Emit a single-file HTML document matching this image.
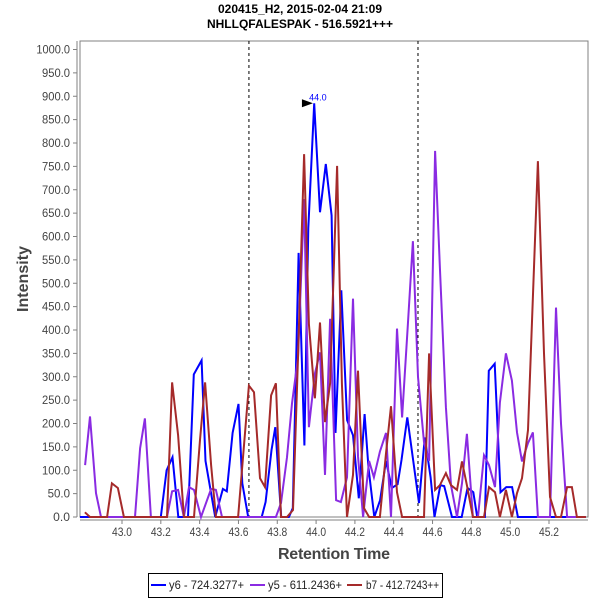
<!DOCTYPE html>
<html><head><meta charset="utf-8"><style>
html,body{margin:0;padding:0;background:#fff;}
svg{display:block;font-family:"Liberation Sans",sans-serif;}
</style></head><body>
<svg id="chart" width="600" height="600" xmlns="http://www.w3.org/2000/svg">
<text x="300" y="13" text-anchor="middle" font-size="12" font-weight="bold" textLength="164">020415_H2, 2015-02-04 21:09</text>
<text x="300" y="28" text-anchor="middle" font-size="12" font-weight="bold" textLength="186">NHLLQFALESPAK - 516.5921+++</text>
<rect x="80" y="41" width="508" height="476" fill="#fff" stroke="#808080" stroke-width="1"/>
<g id="yaxis"></g>
<g id="xaxis"></g>
<g id="marks"></g>
<text x="334" y="559" text-anchor="middle" font-size="16" font-weight="bold" fill="#444" textLength="112">Retention Time</text>
<text transform="translate(28,279) rotate(-90)" text-anchor="middle" font-size="16" font-weight="bold" fill="#444" textLength="66">Intensity</text>
<g>
<rect x="148.5" y="573.5" width="294" height="24" fill="#fff" stroke="#000"/>
<line x1="151" y1="585" x2="166" y2="585" stroke="#0000ff" stroke-width="2"/>
<text x="169" y="589" font-size="12" fill="#222" textLength="75" lengthAdjust="spacingAndGlyphs">y6 - 724.3277+</text>
<line x1="250" y1="585" x2="265" y2="585" stroke="#8a2be2" stroke-width="2"/>
<text x="268" y="589" font-size="12" fill="#222" textLength="74" lengthAdjust="spacingAndGlyphs">y5 - 611.2436+</text>
<line x1="347" y1="585" x2="362" y2="585" stroke="#a52a2a" stroke-width="2"/>
<text x="366" y="589" font-size="12" fill="#222" textLength="73" lengthAdjust="spacingAndGlyphs">b7 - 412.7243++</text>
</g>
</svg>
<script>
const yTicks=[0,50,100,150,200,250,300,350,400,450,500,550,600,650,700,750,800,850,900,950,1000];
const xTicks=[43.0,43.2,43.4,43.6,43.8,44.0,44.2,44.4,44.6,44.8,45.0,45.2];
const markers=[43.654,44.525];
const apexRt=43.994, apexVal=885, apexLabel="44.0";
const y6Rt=[42.78,43.20,43.23,43.26,43.29,43.34,43.37,43.41,43.43,43.48,43.52,43.54,43.57,43.60,43.62,43.65,43.72,43.74,43.77,43.79,43.82,43.86,43.88,43.91,43.94,43.96,43.99,44.02,44.05,44.08,44.10,44.13,44.16,44.19,44.22,44.25,44.27,44.30,44.33,44.36,44.39,44.42,44.44,44.47,44.53,44.56,44.59,44.61,44.64,44.66,44.70,44.75,44.78,44.81,44.83,44.87,44.89,44.92,44.95,44.98,45.01,45.04,45.39];
const y6Val=[0,0,100,128,0,0,305,335,120,0,60,55,180,242,72,0,0,32,143,192,0,0,19,565,153,618,885,652,755,645,180,485,207,175,40,220,105,0,36,120,62,70,122,213,30,170,85,0,68,66,0,0,62,53,0,0,313,328,53,64,64,0,0];
const y5Rt=[42.81,42.835,42.866,42.892,43.067,43.093,43.118,43.149,43.232,43.258,43.289,43.319,43.345,43.371,43.407,43.459,43.484,43.515,43.793,43.819,43.850,43.876,43.907,43.938,43.963,43.994,44.020,44.046,44.072,44.103,44.128,44.159,44.190,44.216,44.242,44.273,44.298,44.329,44.360,44.386,44.417,44.443,44.473,44.499,44.525,44.556,44.582,44.613,44.638,44.669,44.695,44.726,44.752,44.777,44.808,44.834,44.865,44.891,44.922,44.947,44.978,45.009,45.035,45.061,45.092,45.117,45.143,45.205,45.236,45.262,45.293,45.39];
const y5Val=[111,215,51,0,0,147,211,0,0,55,58,0,64,58,0,60,58,0,0,30,128,243,341,680,192,307,352,90,424,36,32,85,467,130,0,120,85,140,180,0,403,213,413,590,300,160,120,783,533,235,68,0,72,178,0,0,132,111,64,245,350,292,181,119,158,181,0,0,448,200,0,0];
const b7Rt=[42.809,42.835,42.923,42.948,42.979,43.010,43.232,43.258,43.289,43.319,43.371,43.402,43.428,43.459,43.484,43.598,43.654,43.680,43.711,43.737,43.768,43.793,43.819,43.850,43.881,43.907,43.938,43.963,43.994,44.020,44.046,44.072,44.108,44.133,44.159,44.190,44.216,44.247,44.273,44.329,44.360,44.386,44.417,44.443,44.556,44.582,44.613,44.638,44.669,44.695,44.726,44.752,44.777,44.808,44.834,44.865,44.891,44.922,44.947,44.978,45.009,45.035,45.061,45.092,45.143,45.174,45.205,45.236,45.262,45.293,45.318,45.344,45.39];
const b7Val=[10,0,0,72,62,0,0,288,175,0,0,165,288,111,0,0,281,267,83,64,260,286,0,0,15,341,776,413,254,416,203,286,751,286,0,90,313,19,0,0,136,237,53,0,0,350,58,68,94,68,58,119,68,0,0,0,64,53,0,58,0,51,83,186,761,350,43,0,0,64,64,0,0];
const series=[{n:'y6',rt:y6Rt,v:y6Val,c:'#0000ff'},{n:'y5',rt:y5Rt,v:y5Val,c:'#8a2be2'},{n:'b7',rt:b7Rt,v:b7Val,c:'#a52a2a'}];
const NS='http://www.w3.org/2000/svg';
const X0=80,X1=588,Y0=41,Y1=517;
function xs(rt){return 122+(rt-43.0)*(549-122)/2.2;}
function ys(v){return 517-v*(517-49.5)/1000;}
function cl(v,a,b){return Math.max(a,Math.min(b,v));}
function mk(tag,attrs,parent){const e=document.createElementNS(NS,tag);for(const k in attrs)e.setAttribute(k,attrs[k]);parent.appendChild(e);return e;}
const ya=document.getElementById('yaxis'),xa=document.getElementById('xaxis'),mg=document.getElementById('marks');
let l=mk('line',{x1:77,y1:Y0,x2:77,y2:Y1,stroke:'#808080'},ya);


yTicks.forEach(t=>{const y=ys(t);
 const tk=mk('line',{x1:73,y1:y,x2:77,y2:y,stroke:'#808080'},ya);
 
 
 const s=t.toFixed(1);
 const tx=mk('text',{x:70,y:y+4,'text-anchor':'end','font-size':12,fill:'#444',textLength:s.length*5.6,lengthAdjust:'spacingAndGlyphs'},ya);
 tx.textContent=s;
 
 
});
l=mk('line',{x1:X0,y1:520,x2:X1,y2:520,stroke:'#808080'},xa);


xTicks.forEach(t=>{const x=xs(t);
 const tk=mk('line',{x1:x,y1:520,x2:x,y2:524,stroke:'#808080'},xa);
 
 
 const tx=mk('text',{x:x,y:536,'text-anchor':'middle','font-size':12,fill:'#444',textLength:20,lengthAdjust:'spacingAndGlyphs'},xa);
 tx.textContent=t.toFixed(1);
 
 
});
markers.forEach(m=>{const x=xs(m);
 const d=mk('line',{x1:x,y1:Y0,x2:x,y2:Y1,stroke:'#000','stroke-dasharray':'3,3','stroke-width':1},mg);
 
 
});
series.forEach(s=>{
 const pts=s.rt.map((r,i)=>cl(xs(r),X0,X1).toFixed(1)+','+ys(s.v[i]).toFixed(1)).join(' ');
 const p=mk('polyline',{points:pts,fill:'none',stroke:s.c,'stroke-width':2,'stroke-linejoin':'miter'},mg);
 
 
});
const ax=xs(apexRt),ay=ys(apexVal);
const ar=mk('polygon',{points:(ax-13)+','+(ay-4)+' '+(ax-2)+','+ay+' '+(ax-13)+','+(ay+4),fill:'#000'},mg);


const at=mk('text',{x:ax+3,y:ay-3,'text-anchor':'middle','font-size':9,fill:'#0000ff'},mg);
at.textContent=apexLabel;


</script>
</body></html>
